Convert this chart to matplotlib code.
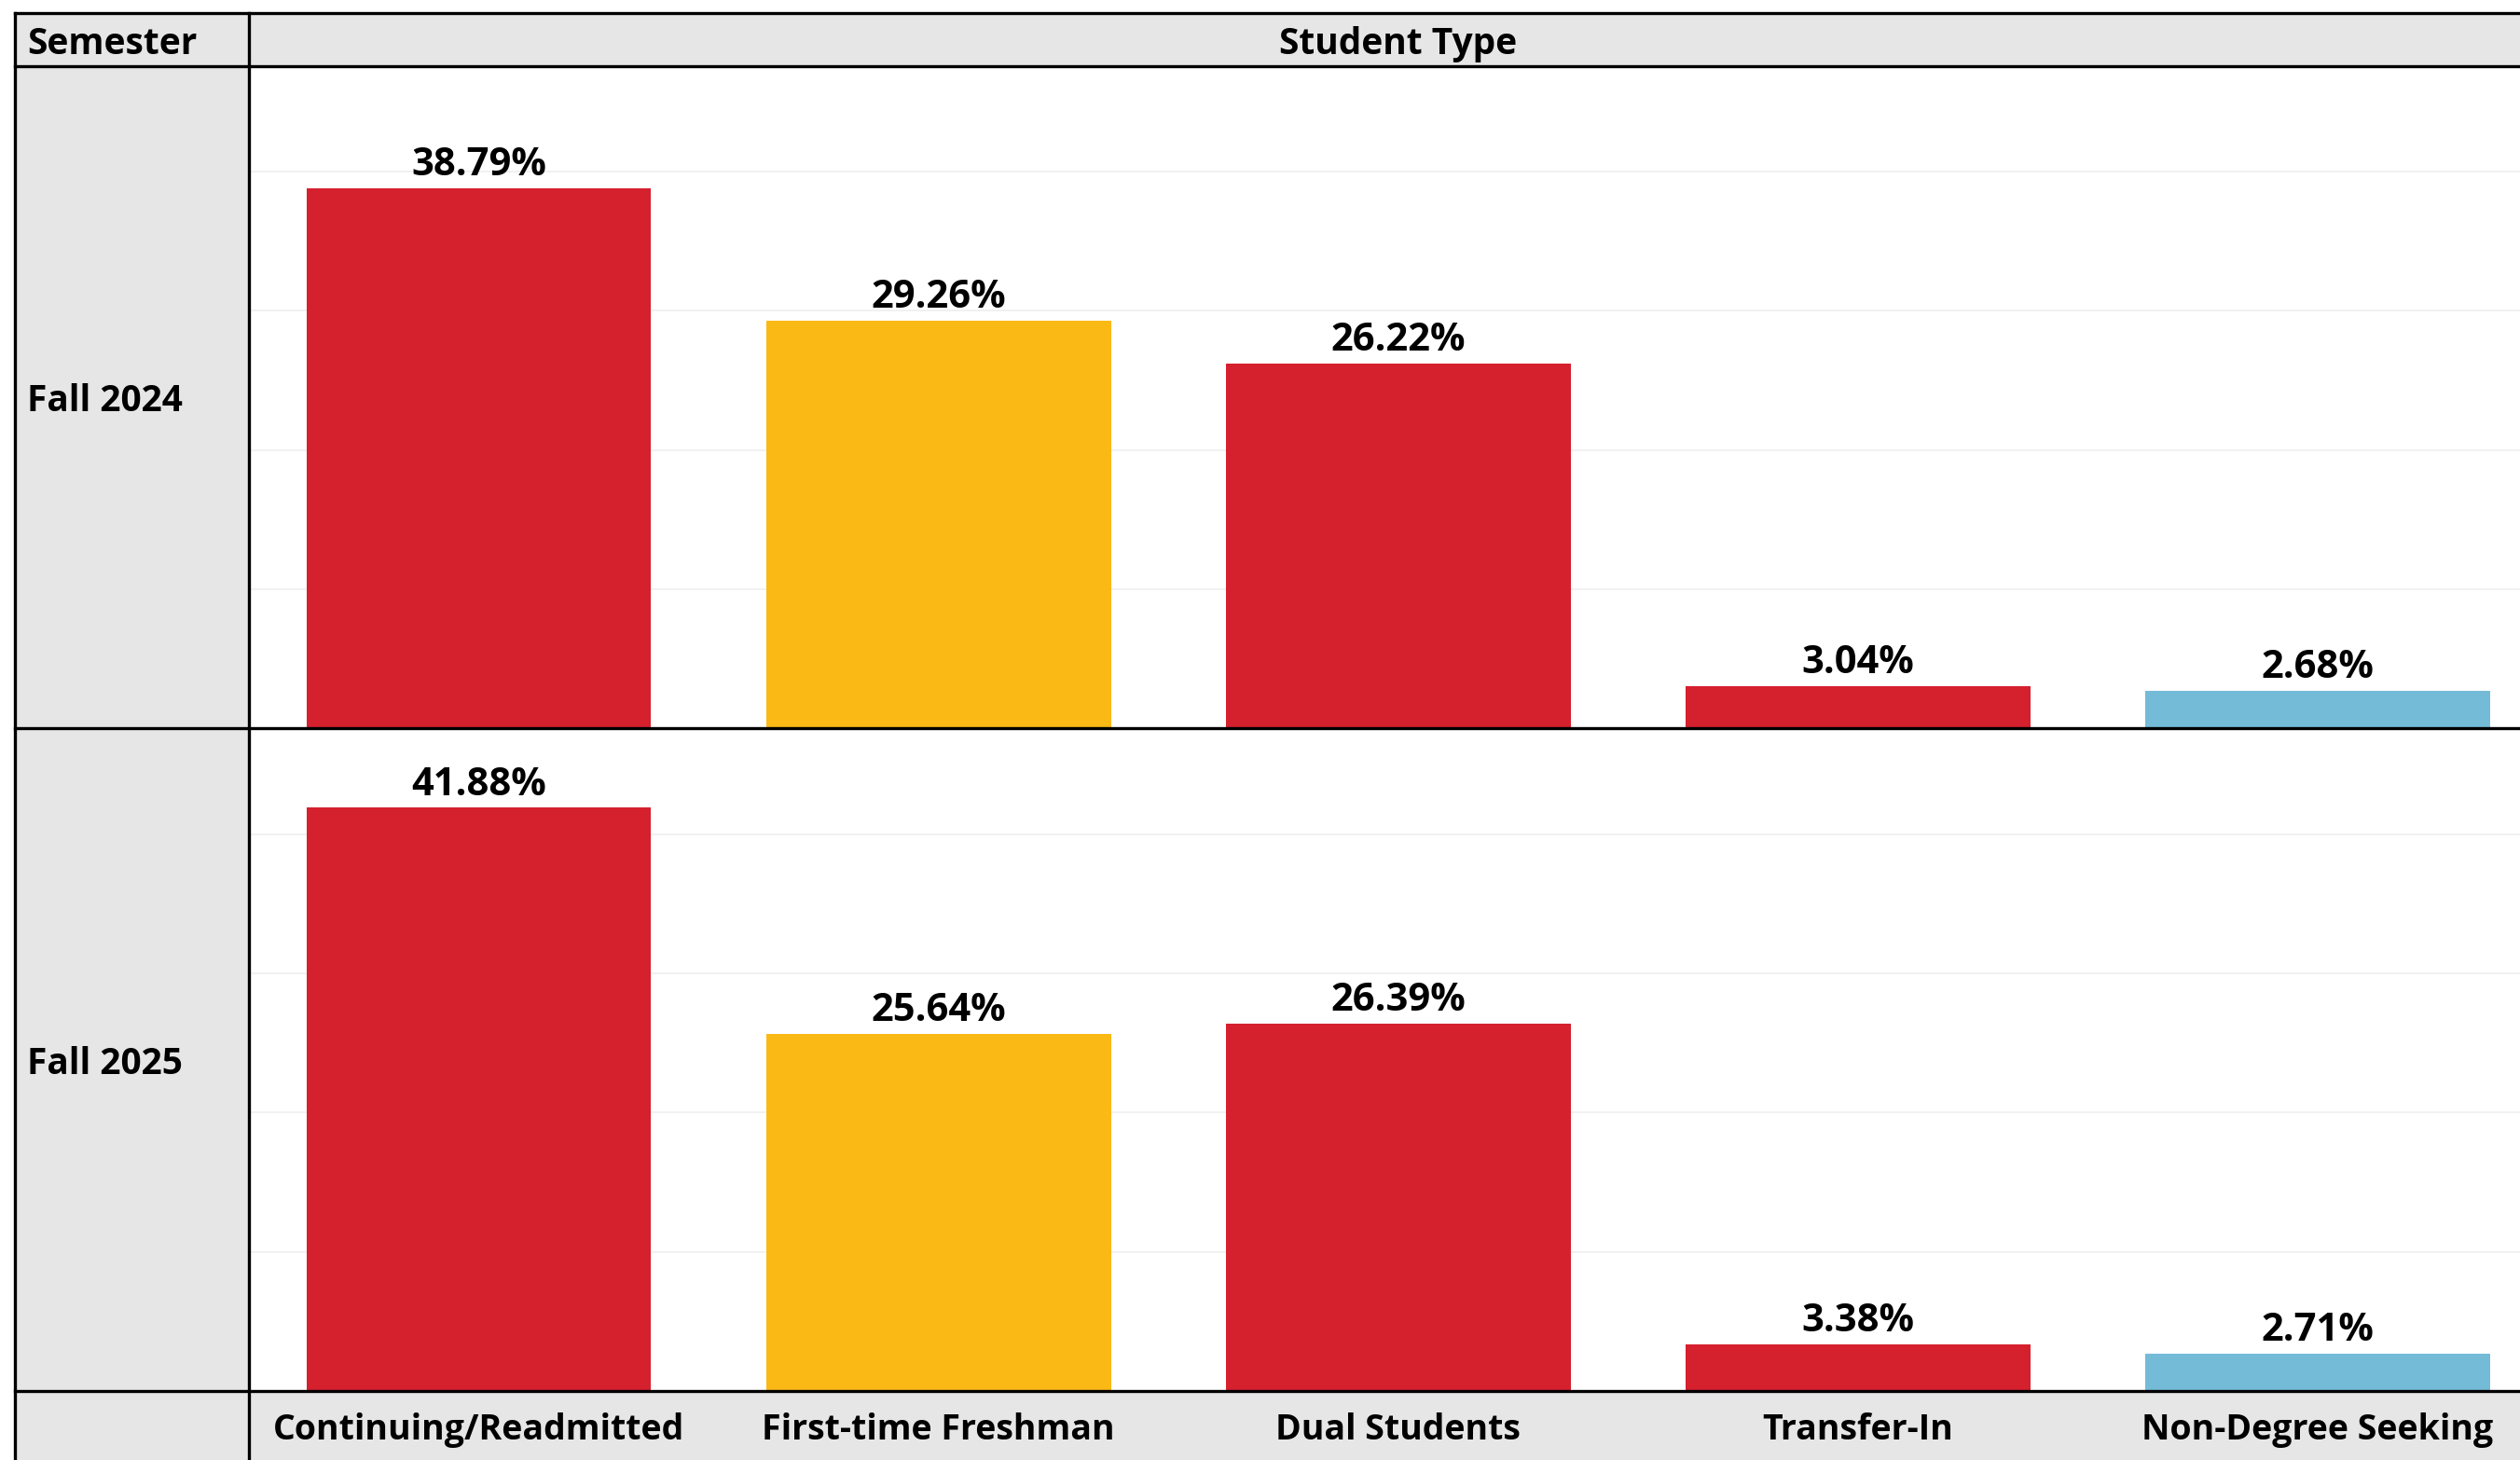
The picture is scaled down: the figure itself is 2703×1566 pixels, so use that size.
import matplotlib
matplotlib.use("Agg")
import matplotlib.pyplot as plt
from matplotlib.patches import Rectangle
from matplotlib.lines import Line2D
from matplotlib.transforms import blended_transform_factory

# data
student_types = ["Continuing/Readmitted", "First-time Freshman", "Dual Students",
                 "Transfer-In", "Non-Degree Seeking"]
semesters = ["Fall 2024", "Fall 2025"]
fall_2024 = [38.79, 29.26, 26.22, 3.04, 2.68]
fall_2025 = [41.88, 25.64, 26.39, 3.38, 2.71]
bar_colors = ["#D5202E", "#FBB916", "#D5202E", "#D5202E", "#74BBD8"]

plt.rcParams['font.family'] = ['Open Sans', 'DejaVu Sans']
FS = 28        # headers
FS_VAL = 30    # bar labels
FS_CAT = 27    # footer labels

W, H = 2703, 1566
fig = plt.figure(figsize=(W / 100, H / 100), dpi=100)

# layout in figure fractions
x_left = 15.5 / W
x_div = 267 / W
y_top = 1 - 14 / H
y_head = 1 - 70.7 / H
y_mid = 1 - 781 / H
y_bot = 1 - 1492 / H
dy = 5 / H  # nudge text down a bit, va='center' sits high

gray = "#e6e6e6"
for (x0, y0, w, h) in [(x_left, y_head, 1 - x_left, y_top - y_head),
                       (x_left, 0, x_div - x_left, y_head),
                       (x_div, 0, 1 - x_div, y_bot)]:
    fig.patches.append(Rectangle((x0, y0), w, h, transform=fig.transFigure,
                                 facecolor=gray, zorder=-1))

axes = []
for i, (vals, y0, y1) in enumerate([(fall_2024, y_mid, y_head), (fall_2025, y_bot, y_mid)]):
    ax = fig.add_axes([x_div, y0, 1 - x_div, y1 - y0])
    ax.patch.set_alpha(0)
    ax.bar(range(len(vals)), vals, width=0.75, color=bar_colors, zorder=2)
    ax.set_xlim(-0.5, 4.44)
    ax.set_ylim(0, 47.6)
    ax.set_yticks([10, 20, 30, 40])
    ax.grid(axis='y', color='#efefef', linewidth=1.2, zorder=0)
    ax.set_xticks([])
    ax.tick_params(left=False, labelleft=False)
    for s in ax.spines.values():
        s.set_visible(False)
    for j, v in enumerate(vals):
        ax.annotate(f"{v:.2f}%", xy=(j, v), xytext=(0, 10), textcoords='offset points',
                    ha='center', va='baseline', fontsize=FS_VAL, fontweight='bold')
    axes.append(ax)

# category labels in footer
tr = blended_transform_factory(axes[1].transData, fig.transFigure)
for j, name in enumerate(student_types):
    axes[1].text(j, y_bot / 2 - dy, name, transform=tr, ha='center', va='center',
                 fontsize=FS_CAT, fontweight='bold', clip_on=False)

# header texts
fig.text(29 / W, (y_top + y_head) / 2 - dy, "Semester", ha='left', va='center',
         fontsize=FS, fontweight='bold')
tr0 = blended_transform_factory(axes[0].transData, fig.transFigure)
axes[0].text(2, (y_top + y_head) / 2 - dy, "Student Type", transform=tr0, ha='center',
             va='center', fontsize=FS, fontweight='bold', clip_on=False)
fig.text(29 / W, (y_mid + y_head) / 2 - dy, semesters[0], ha='left', va='center',
         fontsize=FS, fontweight='bold')
fig.text(29 / W, (y_bot + y_mid) / 2 - dy, semesters[1], ha='left', va='center',
         fontsize=FS, fontweight='bold')

# table borders
lw = 2.4
for y in [y_top, y_head, y_mid, y_bot]:
    fig.add_artist(Line2D([x_left, 1], [y, y], transform=fig.transFigure,
                          color='black', linewidth=lw, zorder=5))
for x in [x_left, x_div]:
    fig.add_artist(Line2D([x, x], [0, y_top], transform=fig.transFigure,
                          color='black', linewidth=lw, zorder=5))

fig.savefig("out.png", dpi=100)
